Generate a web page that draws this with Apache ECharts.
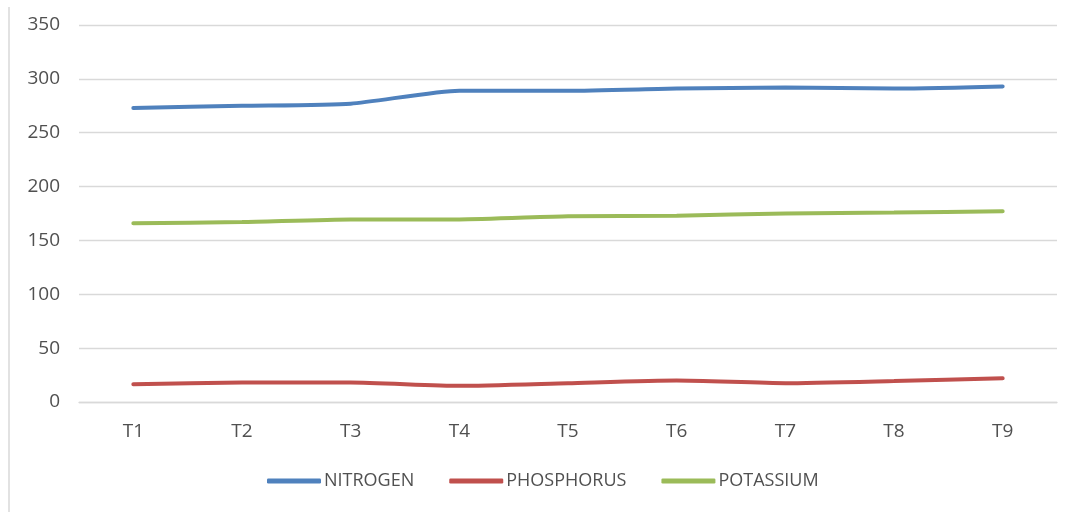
<!DOCTYPE html>
<html>
<head>
<meta charset="utf-8">
<script src="https://cdn.jsdelivr.net/npm/echarts@6/dist/echarts.min.js"></script>
<style>
html,body{margin:0;padding:0;background:#fff;}
#chart{width:1073px;height:512px;}
</style>
</head>
<body>
<div id="chart"></div>
<script>
const categories = ['T1','T2','T3','T4','T5','T6','T7','T8','T9'];
const nitrogen = [273, 275, 277, 289, 289, 291, 292, 291, 293];
const phosphorus = [16.5, 18, 18, 15, 17.5, 20, 17.5, 19.5, 22];
const potassium = [166, 167, 169.5, 169.5, 172.5, 173, 175, 176, 177];
const yTicks = [0, 50, 100, 150, 200, 250, 300, 350];

const font = '"Open Sans", "Noto Sans", sans-serif';
const chart = echarts.init(document.getElementById('chart'));
function mk(name, data, color) {
  return {
    name, type: 'line', data, smooth: 0.2, showSymbol: false, symbol: 'none',
    lineStyle: { color, width: 4, cap: 'round' }, itemStyle: { color },
    animation: false
  };
}
chart.setOption({
  animation: false,
  backgroundColor: '#fff',
  grid: { left: 79, right: 16, top: 25, bottom: 110, containLabel: false },
  graphic: [{
    type: 'line', shape: { x1: 9, y1: 7, x2: 9, y2: 512 },
    style: { stroke: '#d9d9d9', lineWidth: 1.5 }
  }],
  xAxis: {
    type: 'category', data: categories, boundaryGap: true,
    axisLine: { show: true, lineStyle: { color: '#d9d9d9', width: 1.3 } },
    axisTick: { show: false },
    axisLabel: { color: '#505050', fontSize: 19, fontFamily: font, margin: 20 }
  },
  yAxis: {
    type: 'value', min: yTicks[0], max: yTicks[yTicks.length - 1], interval: 50,
    axisLine: { show: false }, axisTick: { show: false },
    axisLabel: { color: '#505050', fontSize: 19, fontFamily: font, margin: 19 },
    splitLine: { lineStyle: { color: '#d9d9d9', width: 1.3 } }
  },
  legend: {
    top: 467, left: 262,
    icon: 'roundRect', itemWidth: 54, itemHeight: 5, itemGap: 35,
    textStyle: { color: '#505050', fontSize: 18, fontFamily: font, padding: [0,0,0,-2] },
    data: ['NITROGEN', 'PHOSPHORUS', 'POTASSIUM']
  },
  series: [
    mk('NITROGEN', nitrogen, '#4F81BD'),
    mk('PHOSPHORUS', phosphorus, '#C0504D'),
    mk('POTASSIUM', potassium, '#9BBB59')
  ]
});
</script>
</body>
</html>
